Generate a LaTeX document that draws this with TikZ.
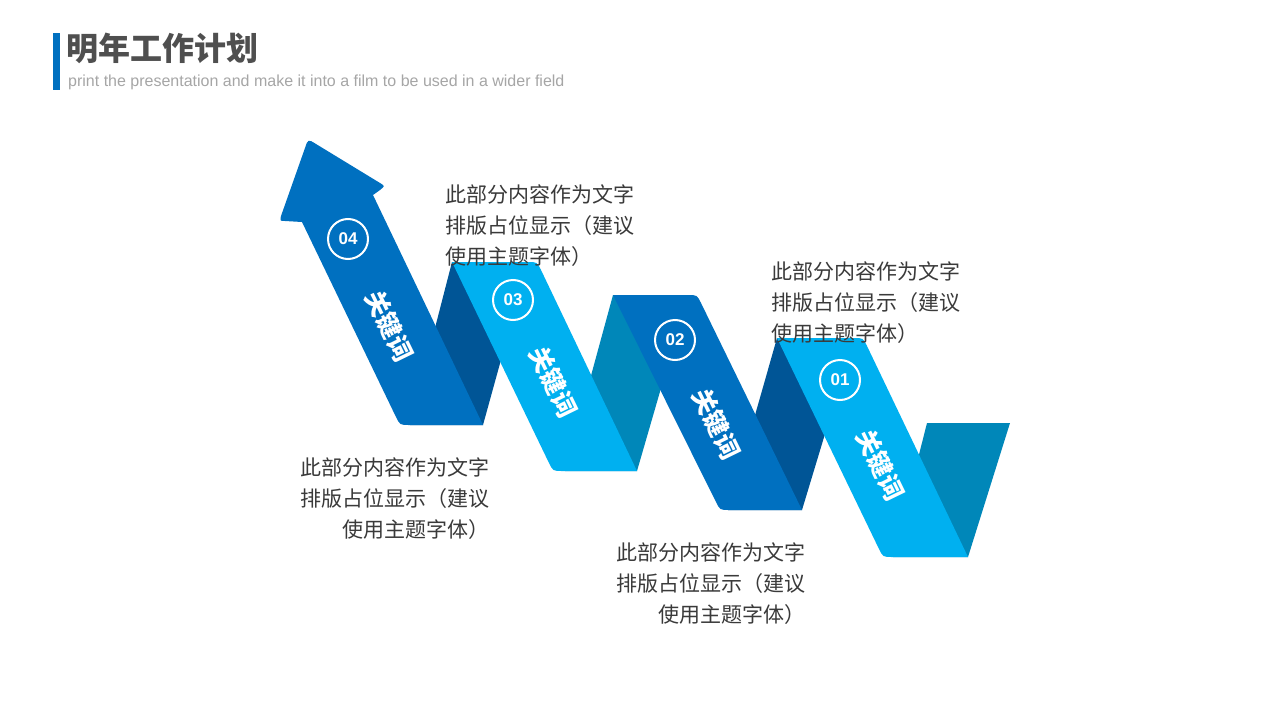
\documentclass[tikz,border=0pt]{standalone}
\usepackage{fontspec}
\setmainfont{Liberation Sans}
\newfontfamily\cjk{Noto Sans CJK SC}
\definecolor{medio}{HTML}{0070C0}
\definecolor{claro}{HTML}{00B0F0}
\definecolor{oscuro}{HTML}{005596}
\definecolor{verdeazul}{HTML}{0087B9}
\definecolor{titulo}{HTML}{4F4F4F}
\definecolor{subtitulo}{HTML}{A6A6A6}
\definecolor{texto}{HTML}{3A3A3A}

\begin{document}
\begin{tikzpicture}[x=1pt,y=-1pt,
   numcircle/.style={circle,draw=white,line width=2pt,minimum size=40pt,inner sep=0pt,text=white,font=\bfseries\fontsize{17}{17}\selectfont},
   keytext/.style={text=white,rotate=-64,inner sep=0pt,font=\cjk\bfseries\fontsize{25}{25}\selectfont},
   notetext/.style={text=texto,inner sep=0pt,font=\cjk\fontsize{21}{31}\selectfont}]
   \useasboundingbox[fill=white] (0,0) rectangle (1280,720);

   % titulo
   \fill[medio] (53,33) rectangle (60,90);
   \draw (66,60) node[anchor=base west,inner sep=0pt,text=titulo,font=\cjk\bfseries\fontsize{32}{32}\selectfont] (title) {明年工作计划};
   \draw (68,86) node[anchor=base west,inner sep=0pt,text=subtitulo,font=\fontsize{16}{16}\selectfont] (subtitle) {print the presentation and make it into a film to be used in a wider field};

   % pliegues de atras
   \fill[oscuro] (410,425) -- (483,425) -- (528,262) -- (452,262) -- cycle;
   \fill[verdeazul] (565,471) -- (637,471) -- (688,295) -- (613,295) -- cycle;
   \fill[oscuro] (728,510) -- (802,510) -- (854,338) -- (777,338) -- cycle;
   \fill[verdeazul] (893,557) -- (968,557) -- (1010,423) -- (927,423) -- cycle;

   % cintas de delante
   \fill[medio] (483,425) -- (409,425) .. controls (400,425) .. (396,417) -- (302,222) -- (285,221) .. controls (280,221) .. (281,216) -- (305,148) .. controls (308,139) .. (316,144) -- (380,183) .. controls (385,186) .. (380,190) -- (373,195) -- cycle;
   \fill[claro] (452,262) -- (528,262) .. controls (537,262) .. (541,270) -- (637,471) -- (562,471) .. controls (553,471) .. (549,463) -- cycle;
   \fill[medio] (613,295) -- (688,295) .. controls (697,295) .. (701,303) -- (802,510) -- (729,510) .. controls (720,510) .. (716,502) -- cycle;
   \fill[claro] (777,338) -- (854,338) .. controls (863,338) .. (867,346) -- (968,557) -- (892,557) .. controls (883,557) .. (879,549) -- cycle;

   \draw (348,239) node[numcircle] (num4) {04};
   \draw (513,300) node[numcircle] (num3) {03};
   \draw (675,340) node[numcircle] (num2) {02};
   \draw (840,380) node[numcircle] (num1) {01};

   \draw (389,326) node[keytext] (key4) {关键词};
   \draw (553,382) node[keytext] (key3) {关键词};
   \draw (716,424) node[keytext] (key2) {关键词};
   \draw (880,465) node[keytext] (key1) {关键词};

   % textos
   \draw (445,185) node[notetext,anchor=north west,align=left] (note3) {此部分内容作为文字\\排版占位显示（建议\\使用主题字体）};
   \draw (771,262) node[notetext,anchor=north west,align=left] (note1) {此部分内容作为文字\\排版占位显示（建议\\使用主题字体）};
   \draw (490,458) node[notetext,anchor=north east,align=right] (note4) {此部分内容作为文字\\排版占位显示（建议\\使用主题字体）};
   \draw (806,543) node[notetext,anchor=north east,align=right] (note2) {此部分内容作为文字\\排版占位显示（建议\\使用主题字体）};

\end{tikzpicture}
\end{document}
